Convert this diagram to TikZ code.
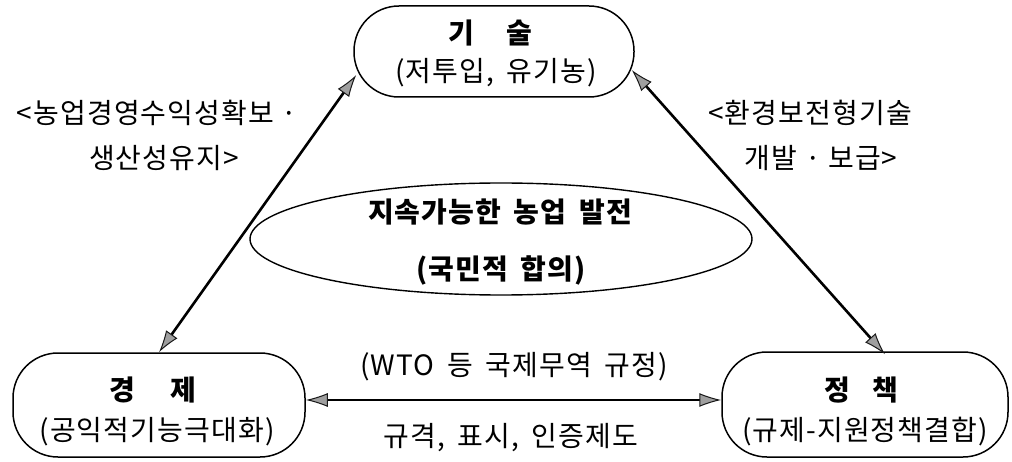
\documentclass[tikz,border=0pt]{standalone}
\usepackage{fontspec}
\setmainfont{Noto Sans CJK KR}[LetterSpace=4]
\usetikzlibrary{arrows.meta,shapes.geometric,calc}
\newcommand\kfs{\fontsize{28}{40}\selectfont}
\newcommand\wsp{\hspace{0.45em}}
\begin{document}
\begin{tikzpicture}[x=1pt,y=-1pt,
  box/.style={draw, line width=1.5pt, rounded corners=45pt, inner sep=0pt},
  headtip/.tip={Latex[length=22pt,width=14pt,fill=gray!75,color=black!90,line width=1pt]},
  arr/.style={line width=2.6pt, headtip-headtip},
  txt/.style={font=\kfs, align=center, inner sep=0pt},
  ttl/.style={font=\kfs\bfseries, inner sep=0pt}]
\useasboundingbox (0,0) rectangle (1012,462);
% boxes
\node[box, minimum width=280pt, minimum height=91pt] (tech) at (494,51.5) {};
\node[box, minimum width=292pt, minimum height=104pt] (econ) at (159,405) {};
\node[box, minimum width=286pt, minimum height=105pt] (policy) at (865,404.5) {};
\node[draw, ellipse, line width=1.4pt, minimum width=502pt, minimum height=112pt, inner sep=0pt] (goal) at (501,239) {};
% box texts
\node[ttl] (techtitle) at (490,33) {기\hspace{1.15em}술};
\node[txt] (techsub) at (496,73) {(저투입,\wsp 유기농)};
\node[ttl] (econtitle) at (153,390) {경\hspace{1.25em}제};
\node[txt] (econsub) at (157,432) {(공익적기능극대화)};
\node[ttl] (policytitle) at (861,390) {정\hspace{0.8em}책};
\node[txt] (policysub) at (865,432) {(규제-지원정책결합)};
\node[ttl] (goaltitle) at (500,212) {지속가능한\wsp 농업\wsp 발전};
\node[ttl] (goalsub) at (501,270) {(국민적\wsp 합의)};
% labels
\node[txt, font=\fontsize{28}{45}\selectfont] (leftlabel) at (157,135) {<농업경영수익성확보 ·\\\hspace{0.5em}생산성유지>};
\node[txt, font=\fontsize{28}{45}\selectfont] (rightlabel) at (810,135) {<환경보전형기술\\\hspace{0.8em}개발 · 보급>};
\node[txt] (wto) at (514,367) {(WTO\wsp 등\wsp 국제무역\wsp 규정)};
\node[txt] (std) at (511,438) {규격,\wsp 표시,\wsp 인증제도};
% connectors
\draw[arr] (econ.north) -- ($(tech.west)+(3,23.5)$);
\draw[arr] ($(tech.east)+(-3,18.5)$) -- ($(policy.north)+(20,3)$);
\draw[arr] ($(econ.east)+(0,-5)$) -- ($(policy.west)+(0,-4.5)$);
\end{tikzpicture}
\end{document}
